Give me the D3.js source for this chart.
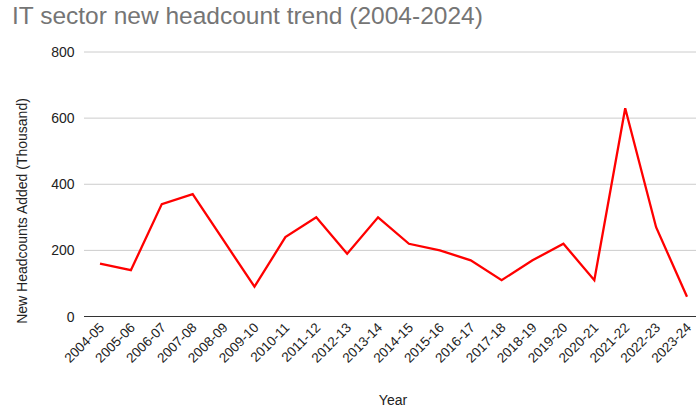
<!DOCTYPE html>
<html><head><meta charset="utf-8">
<script src="https://cdn.jsdelivr.net/npm/d3@7"></script>
<style>body{margin:0;background:#fff}svg{display:block;font-family:"Liberation Sans",Arial,sans-serif}</style>
</head><body>
<svg id="c" width="696" height="413"></svg>
<script>
const years = ["2004-05","2005-06","2006-07","2007-08","2008-09","2009-10","2010-11","2011-12","2012-13","2013-14","2014-15","2015-16","2016-17","2017-18","2018-19","2019-20","2020-21","2021-22","2022-23","2023-24"];
const headcounts = [160,140,340,370,230,90,240,300,190,300,220,200,170,110,170,220,110,630,270,60];
const yTicks = [0,200,400,600,800];

const svg = d3.select("#c");
const x = d3.scalePoint().domain(years).range([100,687]);
const y = d3.scaleLinear().domain([0,800]).range([316.5,52]);
const gridLeft = 84, gridRight = 696;

svg.append("text").attr("x",12).attr("y",23.5).attr("font-size",24.5).attr("fill","#757575").text("IT sector new headcount trend (2004-2024)");

const g = svg.append("g");
g.selectAll("line.grid").data(yTicks.filter(d=>d>0)).join("line")
  .attr("x1",gridLeft).attr("x2",gridRight).attr("y1",d=>y(d)).attr("y2",d=>y(d))
  .attr("stroke","#cccccc").attr("stroke-width",1);
g.selectAll("text.yt").data(yTicks).join("text")
  .attr("x",74.5).attr("y",d=>y(d)+5).attr("text-anchor","end").attr("font-size",14).attr("fill","#222").text(d=>d);

svg.append("path").datum(headcounts)
  .attr("fill","none").attr("stroke","#ff0000").attr("stroke-width",2.3).attr("stroke-linejoin","miter")
  .attr("d", d3.line().x((d,i)=>x(years[i])).y(d=>y(d)));

svg.append("line").attr("x1",gridLeft).attr("x2",gridRight).attr("y1",y(0)).attr("y2",y(0)).attr("stroke","#333").attr("stroke-width",1);

svg.selectAll("text.xt").data(years).join("text")
  .attr("text-anchor","end").attr("font-size",13.5).attr("fill","#222")
  .attr("transform",d=>`translate(${x(d)+5},${y(0)+12}) rotate(-45)`).text(d=>d);

svg.append("text").attr("x",393).attr("y",405).attr("text-anchor","middle").attr("font-size",14).attr("fill","#222").text("Year");
svg.append("text").attr("transform","translate(26.5,211) rotate(-90)").attr("text-anchor","middle").attr("font-size",14).attr("fill","#222").text("New Headcounts Added (Thousand)");
</script>
</body></html>
